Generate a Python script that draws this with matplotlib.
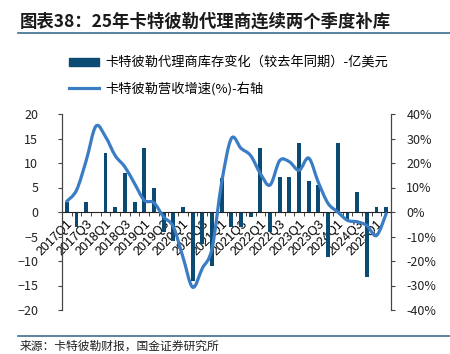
import matplotlib
matplotlib.use("Agg")
import matplotlib.pyplot as plt
import numpy as np
from matplotlib.path import Path
from matplotlib.patches import PathPatch
from matplotlib.lines import Line2D
from matplotlib.patches import Patch

plt.rcParams['font.family'] = ['Noto Sans CJK SC', 'DejaVu Sans']

# quarters 2017Q1 .. 2025Q2
quarters = [f"{y}Q{q}" for y in range(2017, 2026) for q in range(1, 5)][:34]

# dealer inventory change vs. same period last year (亿美元)
inventory_chg = [2, -3, 2, 0, 12, 1, 8, 2, 13, 5,
                 -4, -6, 1, -14, -6.5, -11, 7, -3, -3, -1,
                 13, -4, 7.2, 7.2, 14, 6.3, 5.5, -9.2, 14, -1.7,
                 4, -13.2, 1, 1]

# CAT revenue growth (%), right axis
revenue_growth = [4.4, 8.9, 21, 35, 30.7, 23, 18.4, 11.6, 4.8, 3.8,
                  -2, -6, -18.4, -30.7, -23, -15, 12, 30, 26, 23,
                  15.7, 11, 21, 20.5, 17, 22, 12, 3.5, 0, -3.4,
                  -4, -5.5, -9.6, -0.7]

bar_color = '#0b4a72'
line_color = '#3b7dc4'
rule_color = '#3d6f8e'

fig = plt.figure(figsize=(4.5, 3.54), dpi=100)
ax = fig.add_axes([62 / 450, 1 - 310 / 354, (391 - 62) / 450, (310 - 114) / 354])
ax2 = ax.twinx()

x = np.arange(len(quarters))
ax.bar(x, inventory_chg, width=0.4, color=bar_color, zorder=2)

# smooth line through the data points (Catmull-Rom as cubic Bezier)
pts = np.column_stack([x, revenue_growth]).astype(float)
verts = [tuple(pts[0])]
codes = [Path.MOVETO]
for i in range(len(pts) - 1):
    p0 = pts[i - 1] if i > 0 else pts[i]
    p1 = pts[i]
    p2 = pts[i + 1]
    p3 = pts[i + 2] if i + 2 < len(pts) else pts[i + 1]
    c1 = p1 + (p2 - p0) / 6
    c2 = p2 - (p3 - p1) / 6
    verts += [tuple(c1), tuple(c2), tuple(p2)]
    codes += [Path.CURVE4] * 3
ax2.add_patch(PathPatch(Path(verts, codes), facecolor='none',
                        edgecolor=line_color, lw=2.3, capstyle='round', zorder=3))

ax.set_xlim(-0.5, len(quarters) - 0.5)
ax.set_ylim(-20, 20)
ax2.set_ylim(-40, 40)
ax.set_yticks(np.arange(-20, 21, 5))
ax2.set_yticks(np.arange(-40, 41, 10))
ax2.set_yticklabels([f"{v}%" for v in range(-40, 41, 10)])

for a in (ax, ax2):
    a.spines['top'].set_visible(False)
    a.spines['bottom'].set_visible(False)
    a.spines['left'].set_color('#444444')
    a.spines['right'].set_color('#444444')
    a.tick_params(axis='y', labelsize=9, length=3, color='#444444',
                  labelcolor='#222222')
ax.tick_params(axis='y', pad=14)
ax2.tick_params(axis='y', pad=8)

ax.spines['bottom'].set_visible(True)
ax.spines['bottom'].set_position(('data', 0))
ax.spines['bottom'].set_color('#222222')
ax.set_xticks(x[::2])
ax.set_xticklabels(quarters[::2], rotation=45, ha='right',
                   rotation_mode='anchor', fontsize=9,
                   family=['Liberation Sans', 'DejaVu Sans'])
ax.set_xticks(np.arange(-0.5, len(quarters), 1), minor=True)
ax.tick_params(axis='x', which='major', length=0, pad=4)
ax.tick_params(axis='x', which='minor', length=3, color='#222222')
ax.set_zorder(ax2.get_zorder() - 1)
ax2.patch.set_visible(False)
ax.patch.set_visible(False)

# legend
handles = [Patch(color=bar_color), Line2D([], [], color=line_color, lw=2.3)]
labels = ['卡特彼勒代理商库存变化（较去年同期）-亿美元', '卡特彼勒营收增速(%)-右轴']
fig.legend(handles, labels, loc='upper left', bbox_to_anchor=(57 / 450, 1 - 45 / 354),
           frameon=False, fontsize=9.5, handlelength=2.3, handleheight=0.6,
           labelspacing=0.9, handletextpad=0.5)

# title and rules
fig.text(20 / 450, 1 - 22 / 354, '图表38：25年卡特彼勒代理商连续两个季度补库',
         fontsize=12.5, fontweight='bold', va='center', color='#1a1a1a')
fig.add_artist(Line2D([18 / 450, 1], [1 - 33 / 354] * 2, color=rule_color, lw=1.2))
fig.add_artist(Line2D([18 / 450, 1], [1 - 336 / 354] * 2, color=rule_color, lw=1.2))
fig.text(20 / 450, 1 - 346 / 354, '来源：卡特彼勒财报，国金证券研究所',
         fontsize=8.5, va='center', color='#222222')

fig.savefig('out.png', dpi=100)
